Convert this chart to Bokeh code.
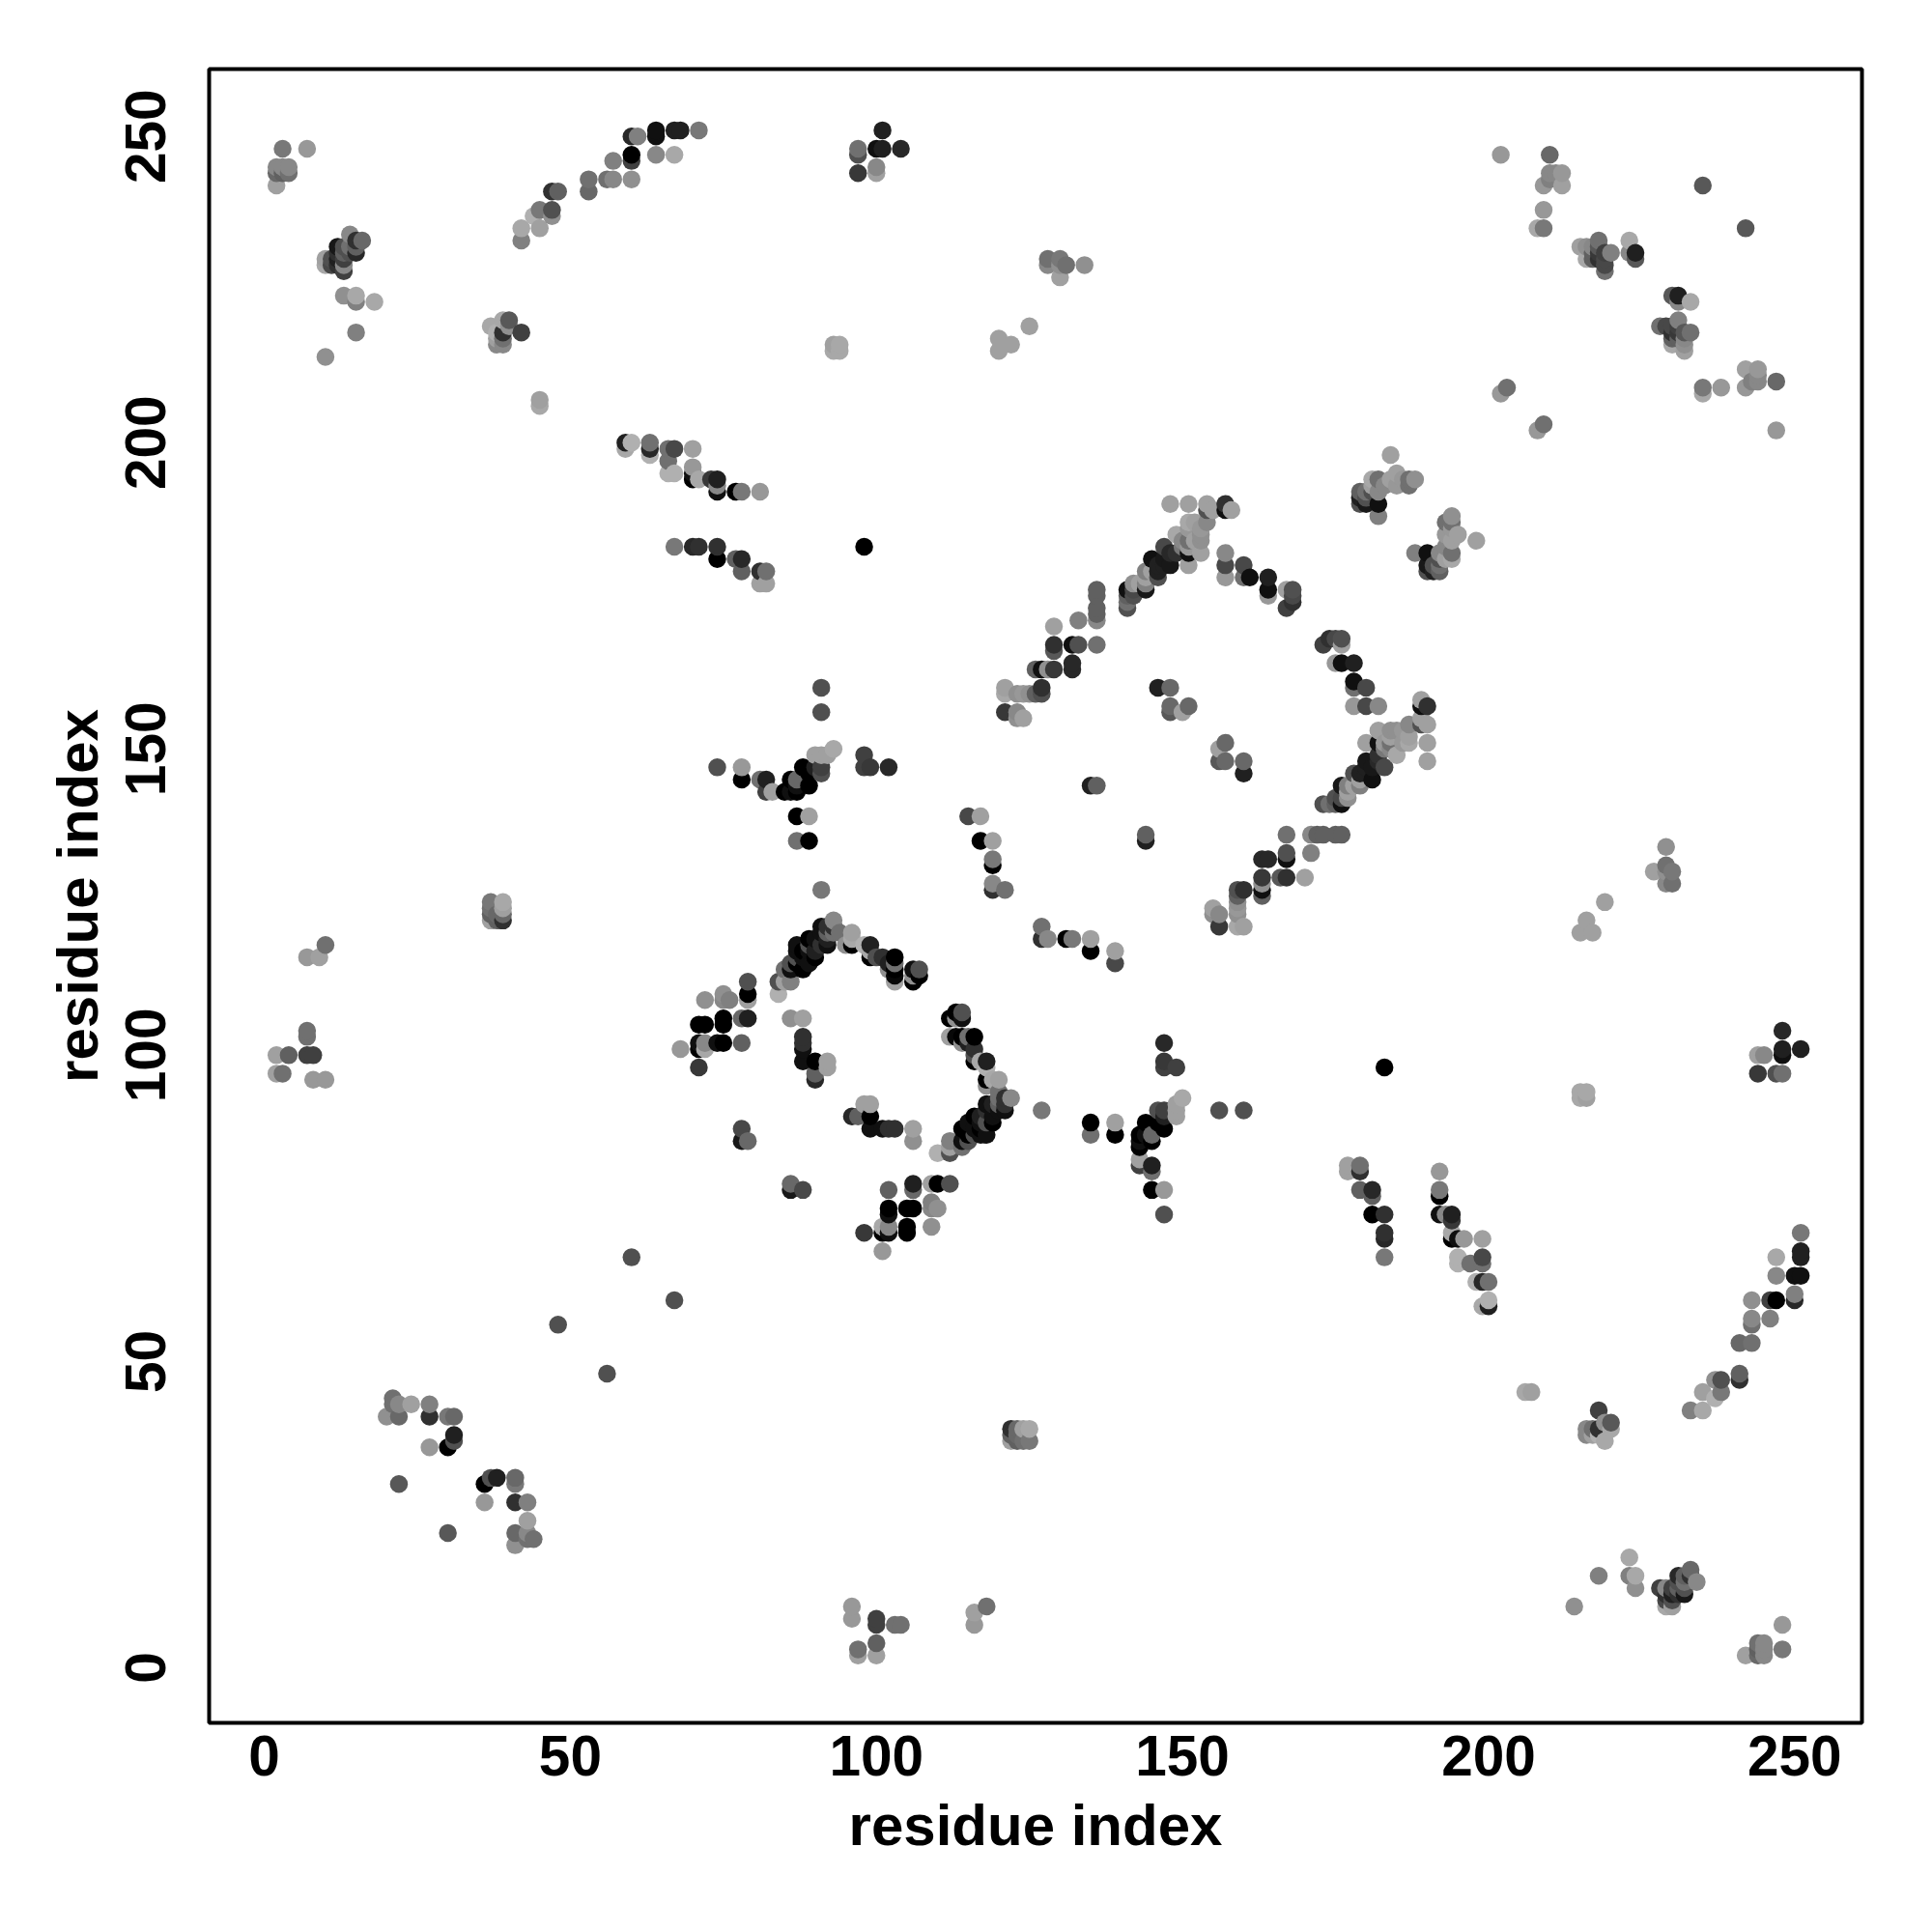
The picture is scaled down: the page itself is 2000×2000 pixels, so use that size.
from bokeh.plotting import figure
from bokeh.models import Range1d, FixedTicker, ColumnDataSource
from bokeh.embed import file_html
from bokeh.resources import INLINE

tick_values = [0, 50, 100, 150, 200, 250]
axis_title = "residue index"

# contacts: (residue i, residue j, grey level); the map is symmetric
corner_a = [(3,248,0x80),(7,248,0xa0),(2,242,0xa8),(2,244,0x70),(3,244,0x60),(4,244,0x70),(2,245,0x90),(3,245,0x90),(4,245,0x90)]
corner_b = [(14,234,0x90),(16,233,0x70),(15,233,0x30),(15,232,0x60),(15,231,0x20),(12,232,0x10),(12,231,0x10),(13,231,0x60),(13,230,0x40),
            (10,230,0xa8),(10,229,0xa8),(11,229,0x50),(11,230,0x30),(13,228,0x30),(13,229,0x90),(12,230,0x20),(13,232,0x60),(14,232,0x60)]
corner_c = [(13,224,0x88),(15,224,0xa8),(15,223,0x80),(18,223,0xa8),(15,218,0x88),(10,214,0x98)]
cluster_40 = [(40,220,0x58),(39,220,0xa8),(37,219,0xa8),(42,218,0x40),(39,218,0x30),(40,219,0x90),(38,217,0xa0),(39,217,0x70),(38,216,0x88),(39,216,0x88),(38,218,0xb0)]
pair_45 = [(45,207,0xa0),(45,206,0xa8),(93,216,0xa0),(94,216,0xa8),(93,215,0xa8),(94,215,0xa8)]
arc_top = [(42,233,0x80),(42,235,0xa8),(44,237,0xb0),(45,235,0xa0),(45,238,0x78),(47,238,0x50),(47,237,0x90),(47,241,0x30),(48,241,0x60),
           (53,241,0x68),(53,243,0x70),(56,243,0x70),(57,243,0x88),(60,243,0x90),(57,246,0x80),(60,246,0x40),(60,247,0x00),(60,250,0x28),(61,250,0x80),
           (64,251,0x10),(64,250,0x10),(64,247,0x88),(67,247,0xa8),(67,251,0x20),(68,251,0x20),(71,251,0x78)]
band_199 = [(59,200,0x20),(60,200,0xa8),(59,199,0xa0),(63,200,0x70),(63,199,0x30),(63,198,0xa8),(66,199,0x78),(67,199,0x38),(66,197,0x78),(70,199,0xa0),
            (66,195,0xa8),(67,195,0xa8),(70,196,0x98),(70,194,0x00),(71,194,0xa8),(73,194,0x48),(74,194,0x20),(74,193,0x90),(74,192,0x10),(77,192,0x08),(78,192,0x70),(81,192,0xa0)]
band_183 = [(67,183,0x80),(70,183,0x38),(71,183,0x38),(74,183,0x28),(74,181,0x00),(77,181,0x50),(78,181,0x28),(78,179,0x50),(81,179,0x30),(82,179,0x70),(81,177,0x90),(82,177,0x90),(98,183,0x00)]
band_74 = [(179,78,0x60),(181,78,0x28),(181,77,0x60),(181,74,0x00),(183,74,0x30),(183,71,0x30),(183,70,0x28),(183,67,0x78),(177,81,0xa0),(177,82,0xa0),(179,82,0x70),(179,81,0x30)]
band_70 = [(192,81,0x98),(192,78,0x78),(192,77,0x00),(192,74,0x10),(193,74,0x88),(194,74,0x20),(194,73,0x38),(194,70,0x00),(195,70,0x10),(196,70,0x98),(199,70,0xa0),
           (195,67,0xb0),(195,66,0xb0),(197,66,0x70),(199,67,0x48),(199,66,0x70),(198,63,0xb0),(199,63,0x28),(200,63,0x70),(199,59,0xa8),(200,60,0xb0),(200,59,0x20)]
link_119 = [(121,127,0x70),(119,127,0x30),(119,128,0x88),(119,131,0x00),(119,132,0x78),(119,135,0xa0),(117,135,0x00),(117,139,0xa0),(115,139,0x48)]
arc_lower = [(155,124,0xa8),(155,123,0xa8),(156,123,0x80),(156,121,0x30),(159,127,0x70),(160,127,0x30),(159,126,0x58),(159,125,0x90),(159,123,0xa0),(159,121,0xa0),(160,121,0xa0),
             (163,129,0x38),(163,128,0x80),(163,127,0x00),(163,126,0x68),(163,132,0x20),(164,132,0x20),(167,133,0x58),(167,132,0x00),(166,129,0x60),(167,129,0x30),(170,129,0xa0),
             (171,133,0x78),(167,136,0x78),(171,136,0x88),(172,136,0x60),(175,136,0x60)]
arc_tip = [(173,141,0x48),(174,141,0x60),(175,142,0x70),(176,141,0x00),(176,142,0x48),(176,144,0x08),(177,142,0x70),(177,143,0xa0),(178,146,0x50),(178,144,0xa0),(179,145,0x20),(179,144,0x80),
           (180,148,0x18),(181,145,0x10),(181,147,0x18),(180,146,0x20),(180,151,0xa0),(182,153,0xa0),(182,149,0x30),(183,147,0x30),(183,150,0x78),(185,149,0xa8),(185,153,0x90),(184,151,0x70),(186,151,0x98),
           (187,154,0x90),(187,152,0xa0),(189,158,0xb0),(189,157,0x20),(190,157,0x30),(189,154,0x90),(190,154,0x98),(190,151,0xa0),(190,148,0xa0),(189,155,0xa0)]
arc_right = [(178,157,0xa0),(180,157,0x48),(182,157,0x88),(178,161,0x18),(178,160,0x50),(180,160,0x38),(176,164,0x10),(175,164,0xa0),(178,164,0x30),(173,167,0x40),(174,168,0x40),(176,168,0x58),(176,167,0xa0)]
inner_a = [(146,160,0x28),(148,160,0x70),(148,157,0x68),(148,156,0x50),(150,156,0xa0),(151,157,0x60),(157,151,0x68),(156,150,0xa0),(156,148,0x58),(157,148,0x68),(160,148,0x68),(160,146,0x20),
           (135,144,0x28),(136,144,0x60),(144,136,0x60),(144,135,0x20)]
arc_left = [(121,160,0xa0),(121,159,0xa8),(123,159,0x90),(124,159,0x98),(126,159,0x60),(127,160,0x30),(127,159,0x50),(121,156,0x38),(123,156,0x88),(124,155,0xa0),(123,155,0x90),
            (126,163,0x60),(127,163,0x10),(128,163,0x90),(129,163,0x38),(132,164,0x28),(132,163,0x28),(129,170,0xa0),(133,171,0x80),(136,171,0x88),(136,173,0x60),(136,176,0x60),
            (129,167,0x30),(129,166,0x58),(132,167,0x10),(133,167,0x50),(136,167,0x70)]
arc_up = [(141,173,0x50),(141,174,0x70),(141,176,0x10),(141,175,0x60),(142,175,0x50),(142,177,0x90),(144,176,0x18),(144,177,0x80),(145,179,0xa0),(146,178,0x50),(145,181,0x10),(146,179,0x20),
          (147,180,0x20),(147,183,0x48),(148,180,0x18),(148,182,0x28),(149,185,0xa8),(150,184,0x88),(151,180,0xa0),(151,182,0x10),(151,183,0x98),(151,187,0xa8),(153,182,0xa0),(152,184,0xa0),
          (153,184,0x90),(153,186,0x98),(154,187,0x88),(154,189,0x50),(155,189,0xa0),(154,190,0xa0),(151,190,0xa0),(148,190,0xa0),(157,190,0x30),(158,189,0xa0),(157,189,0x10)]
arc_down = [(157,182,0x88),(157,180,0x48),(157,178,0x98),(160,180,0x48),(160,178,0x70),(161,178,0x10),(164,178,0x20),(164,176,0x10),(164,175,0x98),(167,176,0xa0),(168,176,0x50),(168,174,0x30),(167,173,0x40),(168,175,0x48)]
cluster_185 = [(179,191,0x50),(179,190,0x50),(180,192,0x70),(182,190,0x18),(182,188,0x78),(182,194,0x70),(181,194,0xa8),(182,192,0x48),(184,198,0xa0),(185,193,0x98),(184,194,0x90),(185,195,0xa0),
               (187,194,0x70),(188,194,0x98),(179,192,0x70),(180,190,0x48),(180,191,0x50),(188,182,0x80),(190,182,0x10),(190,179,0x50),(191,179,0x20),(190,180,0x18),(192,181,0x50),(192,179,0x60),
               (193,181,0xa0),(193,187,0x70),(194,188,0x90),(194,186,0x98),(194,184,0xa0),(198,184,0xa0),(192,182,0x88),(193,183,0x88)]
top_right_a = [(202,247,0xa0),(210,247,0x70),(210,244,0xa8),(211,244,0x98),(212,244,0xa0),(209,242,0x98),(212,242,0xa0),(209,238,0xa0),(208,235,0xa8),(209,235,0x78),(235,242,0x58),
               (203,209,0x70),(202,208,0x98)]
top_right_b = [(218,233,0x70),(215,232,0xa8),(220,231,0x80),(218,232,0x58),(218,231,0x38),(217,231,0x60),(216,230,0xa8),(217,230,0x60),(219,230,0x48),(219,228,0x70),(219,231,0x40),
               (223,233,0xa8),(223,231,0x88),(224,231,0x20),(224,230,0x58),(219,229,0x48),(218,230,0x30),(216,232,0x90),(215,232,0xa0),(217,232,0x88)]
top_right_c = [(235,209,0x78),(235,208,0xa8),(238,209,0x98),(242,212,0xa0),(244,212,0x98),(242,209,0x98),(244,211,0x88),(244,210,0x88),(243,210,0x80),(247,210,0x68),(247,202,0x98)]
cross_b = [(147,102,0x28),(147,99,0x38),(147,98,0x40),(149,98,0x40),(127,91,0x78),(135,89,0x00),(135,87,0x70),(139,89,0xa0),(139,87,0x00),(156,91,0x50),(160,91,0x50),(150,93,0xa8),(149,92,0xa0),(149,91,0xa0),(149,90,0xa0),
           (146,91,0x50),(147,91,0x40),(147,90,0x20),(147,88,0x00),(146,89,0x00),(144,89,0x00),(145,86,0x00),(145,87,0x68),(144,87,0x10),(143,87,0x00),(143,86,0x10),(143,85,0x00),(143,83,0xa0),(143,82,0x40),(145,82,0x20),(145,81,0x70),(145,78,0x00),(147,78,0x98),(147,74,0x50)]
ring_left = [(79,112,0x50),(79,110,0x10),(79,109,0x90),(79,106,0x20),(78,106,0x90),(78,102,0x68),(75,110,0x90),(76,109,0x80),(75,109,0x80),(72,109,0x98),(75,106,0x00),(75,105,0x00),(71,105,0x00),(72,105,0x00),
             (74,102,0x10),(75,102,0x00),(71,102,0x00),(71,101,0x00),(72,102,0x88),(72,101,0xa8),(68,101,0xa0),(71,98,0x48),(78,88,0x50),(78,86,0x20),(79,86,0x68)]
ring_inner = [(86,106,0xa0),(88,106,0xa0),(88,103,0x48),(88,102,0x28),(88,99,0x10),(90,99,0x00),(92,99,0xa0),(92,98,0x88),(90,97,0x50),(90,96,0x28),(96,90,0x28),(97,90,0x60),(99,92,0xa0),(98,92,0xa0),(99,90,0x00),(99,88,0x10),
              (101,88,0x10),(103,88,0x30),(102,88,0x30),(106,88,0xa0),(106,86,0x90),(110,84,0xb0),(112,86,0x80),(112,84,0x48)]
ring_right = [(112,106,0x00),(113,107,0x10),(114,107,0x50),(113,106,0x30),(114,106,0x10),(113,103,0xa0),(114,103,0x00),(116,103,0x00),(115,102,0x20),(116,101,0x30),(116,99,0x00),(117,99,0xa8),(118,99,0x18),(118,98,0xa0),
              (118,96,0x00),(120,96,0xa0),(118,95,0x70),(120,93,0x70),(122,93,0x90),(121,93,0x30),(121,91,0x10),(120,92,0x60),(118,92,0x00),(119,89,0x00),(116,90,0x00),(118,87,0x10),(114,88,0x10),(115,86,0x50),(114,86,0x00),
              (116,87,0x50),(117,88,0x00),(117,90,0x20),(118,89,0x50),(118,91,0x10),(119,90,0x60),(120,91,0x10),(119,92,0x20)]
ring_top = [(106,112,0x00),(107,113,0x00),(107,114,0x50),(106,113,0x90),(103,116,0x00),(103,115,0x70),(103,113,0x08),(103,112,0xa0),(102,114,0x90),(99,118,0x20),(100,116,0x50),(99,116,0x00),(98,118,0xb0),
            (96,119,0xa8),(96,118,0x00),(95,118,0x90),(94,120,0x70),(93,122,0x88),(92,121,0x30),(91,120,0x10),(92,118,0x10),(90,116,0x00),(89,119,0x00),(89,117,0x10),(88,114,0x00),(87,117,0x10),(87,115,0x00),
            (86,114,0x10),(86,112,0x80),(85,114,0x70),(84,112,0x50),(84,110,0xb0),(85,112,0xa0),(90,119,0x10),(91,118,0x30),(88,116,0x10),(89,115,0x10)]
lower_mid = [(86,79,0x68),(86,78,0x18),(88,78,0x48),(67,60,0x50),(56,48,0x50),(102,78,0x60),(106,79,0x20),(106,78,0x68),(109,79,0xa0),(110,79,0x00),(112,79,0x50),(102,75,0x00),(102,74,0x10),(105,75,0x00),(106,75,0x00),
             (109,76,0x80),(109,75,0x88),(110,75,0x90),(109,72,0x90),(98,71,0x38),(101,72,0xa8),(102,72,0x88),(101,71,0x00),(102,71,0x10),(105,72,0x00),(105,71,0x00),(101,68,0x98)]
block_122 = [(122,39,0x30),(123,39,0x68),(124,39,0xa0),(125,39,0xa8),(122,38,0x60),(123,38,0x68),(122,37,0xa0),(123,37,0x60),(124,37,0x70),(125,37,0x78)]
lower_right = [(223,18,0xa8),(218,15,0x80),(223,15,0x80),(224,15,0xa8),(224,13,0x90),(214,10,0x90),(228,13,0x40),(229,13,0x88),(229,12,0x30),(229,10,0xa8),(230,10,0xa0),(229,11,0x48),(230,11,0x50),(230,12,0x20),
               (231,15,0x28),(231,14,0x50),(231,12,0x30),(232,12,0x18),(232,14,0x70),(233,16,0x68),(234,14,0x88),(232,13,0x50),(248,7,0x98),(248,3,0x78),(242,2,0xa0),(244,2,0x68),(245,2,0x88),(245,3,0x88),(245,4,0x88),(244,3,0x60)]
lower_left = [(21,44,0x70),(21,43,0x70),(22,43,0x88),(24,43,0xa0),(27,43,0x88),(27,41,0x30),(20,41,0x90),(22,41,0x68),(30,41,0x88),(31,41,0x68),(31,38,0x20),(31,37,0x58),(30,36,0x00),(27,36,0x98),(22,30,0x58),
              (36,30,0x00),(37,31,0x50),(38,31,0x20),(41,31,0x68),(41,30,0x78),(36,27,0x98),(41,27,0x30),(43,27,0x80),(43,24,0xa0),(41,22,0x68),(43,22,0x88),(44,21,0x70),(43,21,0x70),(41,20,0x90)]
top_mid = [(97,244,0x38),(100,244,0xa0),(100,245,0x88),(97,247,0x50),(97,248,0x70),(100,248,0x10),(101,248,0x20),(101,251,0x20),(104,248,0x28)]
left_mid = [(2,100,0xa0),(2,97,0xa0),(3,97,0x70),(4,100,0x60),(7,100,0x40),(8,100,0x40),(7,104,0x70),(7,103,0x70),(8,96,0x98),(10,96,0x98),(7,116,0x98),(9,116,0xa0),(10,118,0x70)]
upper_mid = [(120,215,0xa0),(120,217,0xa0),(122,216,0xa0),(125,219,0xa0),(128,229,0x88),(128,230,0x70),(130,230,0x78),(130,229,0x90),(130,227,0xa0),(131,229,0x70),(134,229,0x90)]

groups = [corner_a, corner_b, corner_c, cluster_40, pair_45, arc_top, band_199, band_183, band_74, band_70, link_119,
          arc_lower, arc_tip, arc_right, inner_a, arc_left, arc_up, arc_down, cluster_185, top_right_a, top_right_b, top_right_c,
          cross_b, ring_left, ring_inner, ring_right, ring_top, lower_mid, block_122, lower_right, lower_left, top_mid, left_mid, upper_mid]

cells = {}
for g in groups:
    for i, j, s in g:
        cells[(i, j)] = s
        cells[(j, i)] = s
keys = sorted(cells)
src = ColumnDataSource(dict(
    x=[k[0] for k in keys],
    y=[k[1] for k in keys],
    c=["#%02x%02x%02x" % (cells[k], cells[k], cells[k]) for k in keys],
))

FONT = "Liberation Sans"
p = figure(frame_width=1711, frame_height=1712, width=1984, height=1984,
           x_range=Range1d(-9, 261), y_range=Range1d(-9, 261),
           output_backend="svg", toolbar_location=None,
           min_border_left=216, min_border_top=71, min_border_right=57, min_border_bottom=201)
p.scatter("x", "y", source=src, size=18.5, marker="circle", fill_color="c", line_color=None)

p.grid.visible = False
p.outline_line_color = "black"
p.outline_line_width = 4
p.background_fill_color = "white"

for ax in (p.xaxis[0], p.yaxis[0]):
    ax.ticker = FixedTicker(ticks=tick_values)
    ax.axis_label = axis_title
    ax.axis_label_text_font = FONT
    ax.axis_label_text_font_style = "bold"
    ax.axis_label_text_font_size = "60px"
    ax.axis_label_text_color = "black"
    ax.major_label_text_font = FONT
    ax.major_label_text_font_style = "bold"
    ax.major_label_text_font_size = "58.5px"
    ax.major_label_text_color = "black"
    ax.major_tick_line_color = None
    ax.minor_tick_line_color = None
    ax.axis_line_color = None
    ax.major_tick_in = 0
    ax.major_tick_out = 0
    ax.minor_tick_in = 0
    ax.minor_tick_out = 0

p.xaxis[0].major_label_standoff = 13
p.xaxis[0].axis_label_standoff = 15
p.yaxis[0].major_label_orientation = "parallel"
p.yaxis[0].major_label_standoff = 45
p.yaxis[0].axis_label_standoff = 14

open("out.html", "w").write(file_html(p, INLINE))
